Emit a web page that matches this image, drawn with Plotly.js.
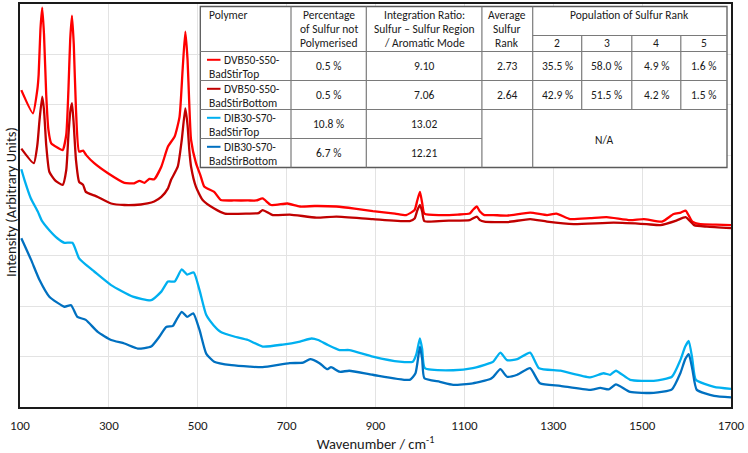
<!DOCTYPE html>
<html>
<head>
<meta charset="utf-8">
<script src="https://cdn.plot.ly/plotly-3.0.1.min.js"></script>
<style>html,body{margin:0;padding:0;background:#fff;}#chart{width:748px;height:453px;}</style>
</head>
<body>
<div id="chart"></div>
<script>
// ---- Data ----
const seriesNames = ["DVB50-S50-BadStirTop", "DVB50-S50-BadStirBottom", "DIB30-S70-BadStirTop", "DIB30-S70-BadStirBottom"];

const dvbTopX = [103,129,139,142,146,150,154,159,164,170,184,196,204,209,213,217,221,226,233,242,249,267,298,335,357,369,380,391,402,418,433,448,459,466,472,477,481,485,496,506,515,537,552,582,613,632,646,665,702,730,763,812,853,894,944,969,988,994,1000,1005,1010,1045,1085,1112,1120,1128,1135,1145,1165,1196,1248,1286,1307,1338,1383,1420,1473,1504,1545,1571,1587,1598,1605,1613,1631,1666,1700];
const dvbTopY = [6.29,5.83,6.30,6.60,7.50,7.93,7.40,6.20,5.50,5.24,5.15,5.10,5.40,6.30,7.30,7.77,7.20,5.90,5.07,5.09,5.00,4.84,4.64,4.45,4.44,4.49,4.45,4.53,4.52,4.77,5.17,5.37,5.76,6.70,7.45,6.90,6.00,5.30,4.84,4.60,4.37,4.27,4.11,4.10,4.10,4.10,4.14,4.01,4.04,3.98,3.99,3.98,3.94,3.89,3.84,3.81,3.91,4.10,4.27,4.05,3.84,3.81,3.82,3.84,3.92,3.98,3.88,3.81,3.81,3.80,3.86,3.81,3.84,3.73,3.75,3.77,3.71,3.73,3.68,3.83,3.86,3.90,3.80,3.68,3.63,3.62,3.61];

const dvbBotX = [103,131,139,144,150,154,159,166,179,196,204,209,213,217,221,226,233,242,248,267,275,305,335,372,387,402,418,433,440,455,464,472,477,481,485,496,511,537,561,613,637,646,669,707,767,812,894,977,988,994,1000,1005,1010,1065,1112,1128,1135,1145,1196,1248,1286,1346,1436,1510,1541,1577,1598,1617,1646,1700];
const dvbBotY = [5.13,4.84,5.20,5.70,6.16,5.90,5.20,4.67,4.50,4.41,4.70,5.40,5.85,6.03,5.60,4.90,4.47,4.41,4.27,4.20,4.17,4.04,4.01,4.02,4.04,4.08,4.17,4.34,4.51,4.77,5.30,5.93,5.60,5.10,4.77,4.37,4.11,3.94,3.84,3.84,3.85,3.91,3.81,3.82,3.76,3.78,3.73,3.69,3.74,3.90,4.01,3.88,3.69,3.70,3.71,3.78,3.71,3.68,3.67,3.73,3.68,3.63,3.66,3.63,3.61,3.70,3.77,3.61,3.58,3.55];

const dibTopX = [103,110,124,140,149,166,184,200,218,233,249,267,305,354,395,418,433,448,464,476,491,504,519,536,552,582,613,646,691,730,756,771,793,819,841,894,954,984,992,1000,1005,1011,1075,1119,1157,1165,1181,1196,1219,1248,1268,1316,1383,1413,1428,1441,1473,1526,1567,1586,1597,1605,1613,1621,1662,1700];
const dibTopY = [4.72,4.51,4.15,3.88,3.70,3.51,3.35,3.26,3.26,2.95,2.82,2.69,2.42,2.19,2.12,2.29,2.49,2.49,2.73,2.63,2.67,2.32,1.83,1.62,1.49,1.40,1.33,1.20,1.24,1.30,1.36,1.33,1.23,1.13,1.13,1.00,0.90,0.90,1.05,1.36,1.15,0.77,0.73,0.77,0.87,0.90,1.08,0.93,0.95,1.08,0.77,0.72,0.59,0.67,0.64,0.72,0.54,0.52,0.60,0.93,1.20,1.31,0.95,0.54,0.40,0.36];

const dibBotX = [103,125,144,166,200,215,229,248,275,305,335,365,395,414,429,444,452,464,476,490,504,519,537,576,617,646,707,737,753,774,791,800,819,841,894,977,990,1000,1005,1010,1045,1075,1119,1157,1165,1181,1196,1219,1248,1270,1316,1383,1406,1425,1441,1473,1526,1567,1586,1597,1605,1613,1623,1662,1700];
const dibBotY = [3.35,2.92,2.52,2.19,1.99,2.02,1.79,1.73,1.49,1.33,1.26,1.16,1.20,1.40,1.59,1.61,1.73,1.89,1.79,1.86,1.53,1.06,0.90,0.83,0.80,0.79,0.87,0.88,0.95,0.87,0.75,0.79,0.70,0.72,0.64,0.54,0.67,1.20,0.95,0.57,0.50,0.44,0.47,0.55,0.60,0.75,0.60,0.64,0.77,0.47,0.42,0.34,0.38,0.35,0.45,0.30,0.28,0.35,0.67,0.95,1.05,0.75,0.34,0.22,0.19];

const xTickVals = [100,300,500,700,900,1100,1300,1500,1700];

// Table contents
const headerPolymer = "Polymer";
const headerPct = ["Percentage", "of Sulfur not", "Polymerised"];
const headerRatio = ["Integration Ratio:", "Sulfur \u2013 Sulfur Region", "/ Aromatic Mode"];
const headerRank = ["Average", "Sulfur", "Rank"];
const headerPopulation = "Population of Sulfur Rank";
const rankLabels = ["2", "3", "4", "5"];
const nameLine1 = ["DVB50-S50-", "DVB50-S50-", "DIB30-S70-", "DIB30-S70-"];
const nameLine2 = ["BadStirTop", "BadStirBottom", "BadStirTop", "BadStirBottom"];
const pctNotPolymerised = ["0.5 %", "0.5 %", "10.8 %", "6.7 %"];
const integrationRatio = ["9.10", "7.06", "13.02", "12.21"];
const avgRank = ["2.73", "2.64"];
const rankPopulation = [["35.5 %", "58.0 %", "4.9 %", "1.6 %"], ["42.9 %", "51.5 %", "4.2 %", "1.5 %"]];
const naText = "N/A";

// ---- Styling ----
const colors = ["#FF0000", "#C00000", "#00B0F0", "#0070C0"];
const FONT = "Carlito, Lato, 'Liberation Sans', sans-serif";
const TXT = "#1a1a1a";
const W = 748, H = 453, ML = 20, MR = 17, MT = 4, MB = 46;
const PW = W - ML - MR, PH = H - MT - MB;
const px = v => (v - ML) / PW;
const py = v => (H - MB - v) / PH;

const xs = [dvbTopX, dvbBotX, dibTopX, dibBotX];
const ys = [dvbTopY, dvbBotY, dibTopY, dibBotY];
const traces = seriesNames.map((n, i) => ({
  type: "scatter", mode: "lines", name: n, x: xs[i], y: ys[i],
  line: {color: colors[i], width: 2.3, shape: "spline", smoothing: 0.5}, hoverinfo: "x+y+name"
}));

// Table geometry (pixel positions)
const cx = [200.3, 291, 366.3, 481.9, 532.7, 581.7, 631.8, 680.8, 727];
const ry = [6.5, 35.5, 51.5, 80.5, 109.5, 138.5, 167.5];
const lineCol = "#7a7a7a";
const shapes = [];
shapes.push({type: "rect", xref: "paper", yref: "paper", x0: px(cx[0]), x1: px(cx[8]), y0: py(ry[6]), y1: py(ry[0]),
  fillcolor: "#ffffff", line: {color: "#5a5a5a", width: 1.3}, layer: "above"});
function hl(y, x0, x1) { shapes.push({type: "line", xref: "paper", yref: "paper", x0: px(x0), x1: px(x1), y0: py(y), y1: py(y), line: {color: lineCol, width: 1.2}, layer: "above"}); }
function vl(x, y0, y1) { shapes.push({type: "line", xref: "paper", yref: "paper", x0: px(x), x1: px(x), y0: py(y0), y1: py(y1), line: {color: lineCol, width: 1.2}, layer: "above"}); }
[1, 2, 3, 4].forEach(k => vl(cx[k], ry[0], ry[6]));
[5, 6, 7].forEach(k => vl(cx[k], ry[1], ry[4]));
hl(ry[1], cx[4], cx[8]);
hl(ry[2], cx[0], cx[8]);
hl(ry[3], cx[0], cx[8]);
hl(ry[4], cx[0], cx[8]);
hl(ry[5], cx[0], cx[3]);

const annotations = [];
function txt(t, x, y, opts) {
  annotations.push(Object.assign({xref: "paper", yref: "paper", x: px(x), y: py(y), text: t, showarrow: false,
    font: {family: FONT, size: 11.5, color: TXT}, xanchor: "center", yanchor: "middle", align: "center"}, opts || {}));
}
const headLines = [15.5, 29.5, 43.5];
txt(headerPolymer, 206.5, headLines[0], {xanchor: "left"});
headerPct.forEach((t, k) => txt(t, (cx[1] + cx[2]) / 2, headLines[k]));
headerRatio.forEach((t, k) => txt(t, (cx[2] + cx[3]) / 2, headLines[k]));
headerRank.forEach((t, k) => txt(t, (cx[3] + cx[4]) / 2, headLines[k]));
txt(headerPopulation, (cx[4] + cx[8]) / 2, headLines[0]);
rankLabels.forEach((r, k) => txt(r, (cx[4 + k] + cx[5 + k]) / 2, headLines[2]));
for (let i = 0; i < 4; i++) {
  const top = ry[2 + i], bot = ry[3 + i], mid = (top + bot) / 2;
  shapes.push({type: "line", xref: "paper", yref: "paper", x0: px(207), x1: px(220.5), y0: py(top + 8.3), y1: py(top + 8.3),
    line: {color: colors[i], width: 2}, layer: "above"});
  txt(nameLine1[i], 222.3, top + 8.3, {xanchor: "left"});
  txt(nameLine2[i], 206.5, top + 22.3, {xanchor: "left"});
  txt(pctNotPolymerised[i], (cx[1] + cx[2]) / 2, mid);
  txt(integrationRatio[i], (cx[2] + cx[3]) / 2, mid);
  if (i < 2) {
    txt(avgRank[i], (cx[3] + cx[4]) / 2, mid);
    rankPopulation[i].forEach((v, k) => txt(v, (cx[4 + k] + cx[5 + k]) / 2, mid));
  }
}
txt(naText, (cx[3] + cx[8]) / 2, 139.5);

// Y axis title
annotations.push({xref: "paper", yref: "paper", x: px(11), y: py(202), text: "Intensity (Arbitrary Units)", textangle: -90,
  showarrow: false, xanchor: "center", yanchor: "middle", font: {family: FONT, size: 14.5, color: TXT}});

const layout = {
  width: W, height: H,
  margin: {l: ML, r: MR, t: MT, b: MB, pad: 0},
  paper_bgcolor: "#ffffff", plot_bgcolor: "#ffffff",
  showlegend: false,
  font: {family: FONT, color: TXT},
  xaxis: {
    range: [100, 1700], tickvals: xTickVals, ticktext: xTickVals.map(String),
    showgrid: true, gridcolor: "#e3e3e3", gridwidth: 1, zeroline: false,
    showline: true, mirror: true, linecolor: "#1a1a1a", linewidth: 2,
    ticks: "", ticklabelstandoff: 5, ticklabeloverflow: "allow",
    tickfont: {family: FONT, size: 13, color: TXT},
    title: {text: "Wavenumber / cm<sup>-1</sup>", font: {family: FONT, size: 14.5, color: TXT}, standoff: 5}
  },
  yaxis: {
    range: [0, 8], dtick: 1, tick0: 0, showticklabels: false,
    showgrid: true, gridcolor: "#e3e3e3", gridwidth: 1, zeroline: false,
    showline: true, mirror: true, linecolor: "#1a1a1a", linewidth: 2, ticks: ""
  },
  shapes: shapes,
  annotations: annotations
};

Plotly.newPlot("chart", traces, layout, {displayModeBar: false, staticPlot: true});
</script>
</body>
</html>
